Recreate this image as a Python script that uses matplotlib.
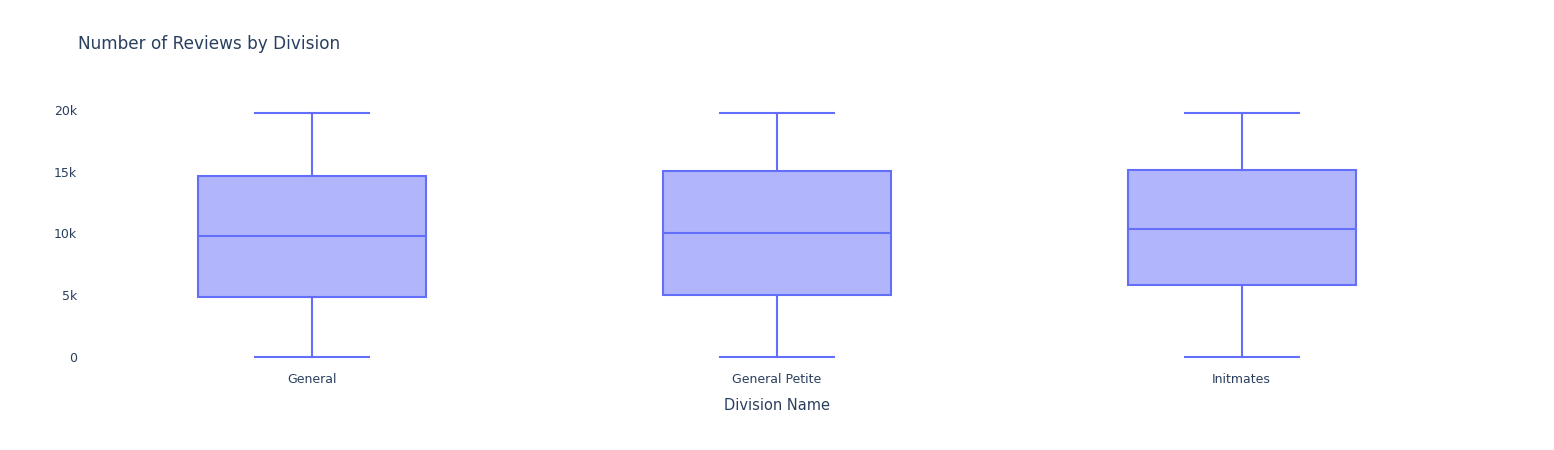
import matplotlib.pyplot as plt

divisions = ["General", "General Petite", "Initmates"]
lower = [0, 0, 0]
q1 = [4870, 5000, 5790]
median = [9810, 10030, 10360]
q3 = [14680, 15060, 15140]
upper = [19740, 19740, 19740]

line_color = "#636efa"
fill_color = "#b1b6fc"
text_color = "#2a3f5f"

stats = []
for i, name in enumerate(divisions):
    stats.append({"label": name, "whislo": lower[i], "q1": q1[i], "med": median[i],
                  "q3": q3[i], "whishi": upper[i], "fliers": []})

fig = plt.figure(figsize=(15.54, 4.5), dpi=100)
ax = fig.add_axes([80 / 1554, 80 / 450, 1394 / 1554, 270 / 450])

lw = 1.5
ax.bxp(stats, positions=range(len(divisions)), widths=0.49, capwidths=0.245,
       patch_artist=True, showfliers=False,
       boxprops=dict(facecolor=fill_color, edgecolor=line_color, linewidth=lw),
       medianprops=dict(color=line_color, linewidth=lw),
       whiskerprops=dict(color=line_color, linewidth=lw),
       capprops=dict(color=line_color, linewidth=lw))

ax.set_xlim(-0.5, 2.5)
ax.set_ylim(-1080, 20810)
ax.set_yticks([0, 5000, 10000, 15000, 20000])
ax.set_yticklabels(["0", "5k", "10k", "15k", "20k"])
ax.set_xticks(range(len(divisions)))
ax.set_xticklabels(divisions)
ax.tick_params(axis="y", length=0, pad=2, labelsize=9, labelcolor=text_color)
ax.tick_params(axis="x", length=0, pad=2, labelsize=9, labelcolor=text_color)
for s in ax.spines.values():
    s.set_visible(False)

ax.set_xlabel("Division Name", fontsize=10.5, color=text_color, labelpad=9)
fig.text(78 / 1554, 1 - 44 / 450, "Number of Reviews by Division", fontsize=12.2,
         color=text_color, ha="left", va="center")

fig.savefig("out.png", dpi=100, facecolor="white")
